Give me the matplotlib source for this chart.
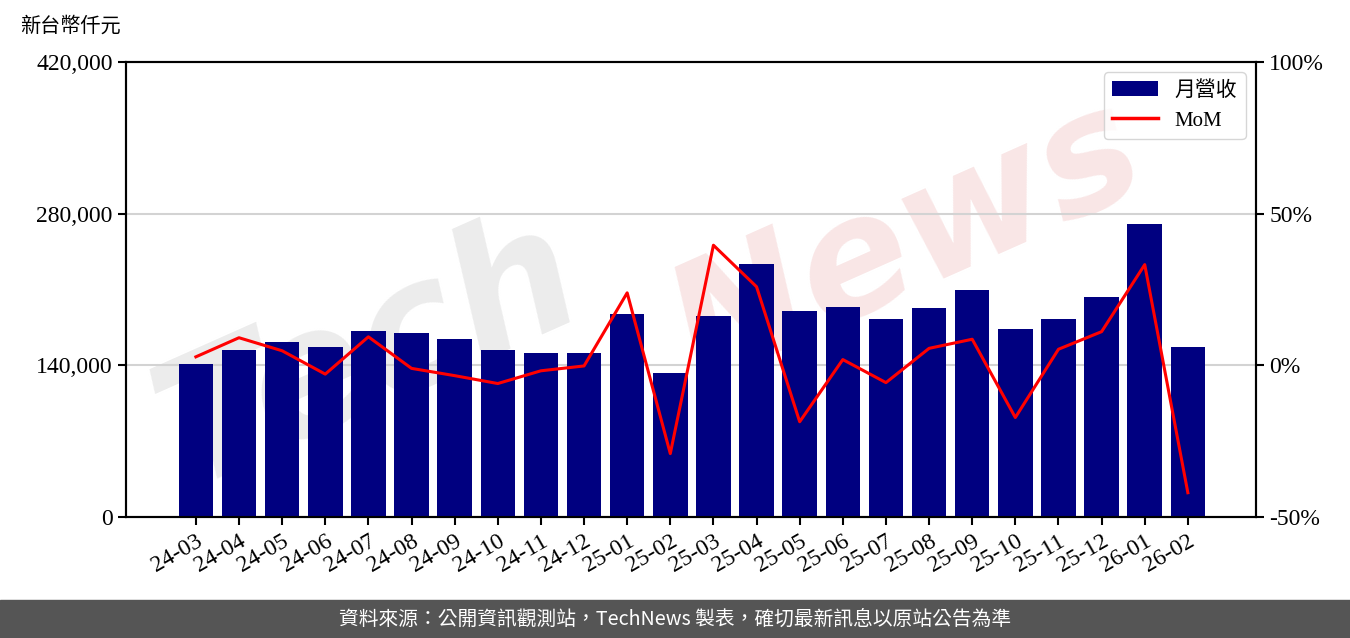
import matplotlib
matplotlib.use("Agg")
import matplotlib.pyplot as plt
from matplotlib.lines import Line2D
from matplotlib.patches import Patch
import numpy as np

months = ["24-03", "24-04", "24-05", "24-06", "24-07", "24-08", "24-09", "24-10",
          "24-11", "24-12", "25-01", "25-02", "25-03", "25-04", "25-05", "25-06",
          "25-07", "25-08", "25-09", "25-10", "25-11", "25-12", "26-01", "26-02"]
revenue = [141200, 154200, 161500, 156900, 171700, 169900, 164300, 154200,
           151400, 151400, 187400, 132900, 185500, 233500, 190200, 193900,
           182800, 192900, 209500, 173500, 182800, 203100, 270500, 156900]
mom = [2.8, 9.1, 4.8, -2.9, 9.4, -1.0, -3.4, -6.0,
       -1.8, -0.2, 23.9, -29.1, 39.6, 25.9, -18.6, 1.9,
       -5.7, 5.6, 8.6, -17.2, 5.3, 11.1, 33.2, -42.0]

serif = ["Liberation Serif", "Noto Sans CJK TC", "DejaVu Sans"]
plt.rcParams['font.family'] = serif

fig = plt.figure(figsize=(13.5, 6.38), dpi=100)
ax = fig.add_axes([126/1350, 1-517/638, (1256-126)/1350, (517-62)/638])
ax.patch.set_alpha(0)

x = np.arange(len(months))
ax.bar(x, revenue, width=0.8, color="#000080", zorder=3)
ax.set_ylim(0, 420000)
ax.set_xlim(-1.62, len(months) - 1 + 1.58)
ax.set_yticks([0, 140000, 280000, 420000])
ax.set_yticklabels(["0", "140,000", "280,000", "420,000"])
ax.set_xticks(x)
ax.set_xticklabels(months, rotation=30, ha="right", rotation_mode="anchor")
for yv in [140000, 280000]:
    ax.axhline(yv, color="#d3d3d3", lw=1.5, zorder=1)
ax.tick_params(axis="both", labelsize=17, length=6, width=1.5, direction="out")
ax.tick_params(axis="x", pad=4)
for s in ax.spines.values():
    s.set_linewidth(1.5)

ax2 = ax.twinx()
ax2.plot(x, mom, color="#ff0000", lw=2.2, zorder=4)
ax2.set_ylim(-50, 100)
ax2.set_yticks([-50, 0, 50, 100])
ax2.set_yticklabels(["-50%", "0%", "50%", "100%"])
ax2.tick_params(axis="y", labelsize=17, length=6, width=1.5)
for s in ax2.spines.values():
    s.set_linewidth(1.5)

handles = [Patch(facecolor="#000080", label="月營收"),
           Line2D([0], [0], color="#ff0000", lw=2.5, label="MoM")]
leg = ax2.legend(handles=handles, loc="upper right", fontsize=15,
                 frameon=True, fancybox=True, edgecolor="#cccccc",
                 handlelength=2.2, borderpad=0.4, labelspacing=0.5,
                 bbox_to_anchor=(1.0, 1.0))
leg.set_zorder(10)

# watermark (behind the axes)
fig.text(0.10, 0.24, "Tech", fontsize=125, color="#ececec",
         rotation=24, family="DejaVu Sans", style="italic", fontweight="bold",
         zorder=-1)
fig.text(0.48, 0.40, "News", fontsize=118, color="#f9e6e6",
         rotation=24, family="DejaVu Sans", style="italic", fontweight="bold",
         zorder=-1)

fig.text(20/1350, 1-27/638, "新台幣仟元", fontsize=14.5, va="center", ha="left",
         family=serif)

# footer
fig.patches.append(plt.Rectangle((0, 0), 1, 38/638, transform=fig.transFigure,
                                 color="#555555", zorder=5))
fig.text(0.5, 19/638, "資料來源：公開資訊觀測站，TechNews 製表，確切最新訊息以原站公告為準",
         color="white", fontsize=14.2, ha="center", va="center",
         family=["Noto Sans CJK TC", "DejaVu Sans"], zorder=6)

fig.savefig("out.png", dpi=100)
